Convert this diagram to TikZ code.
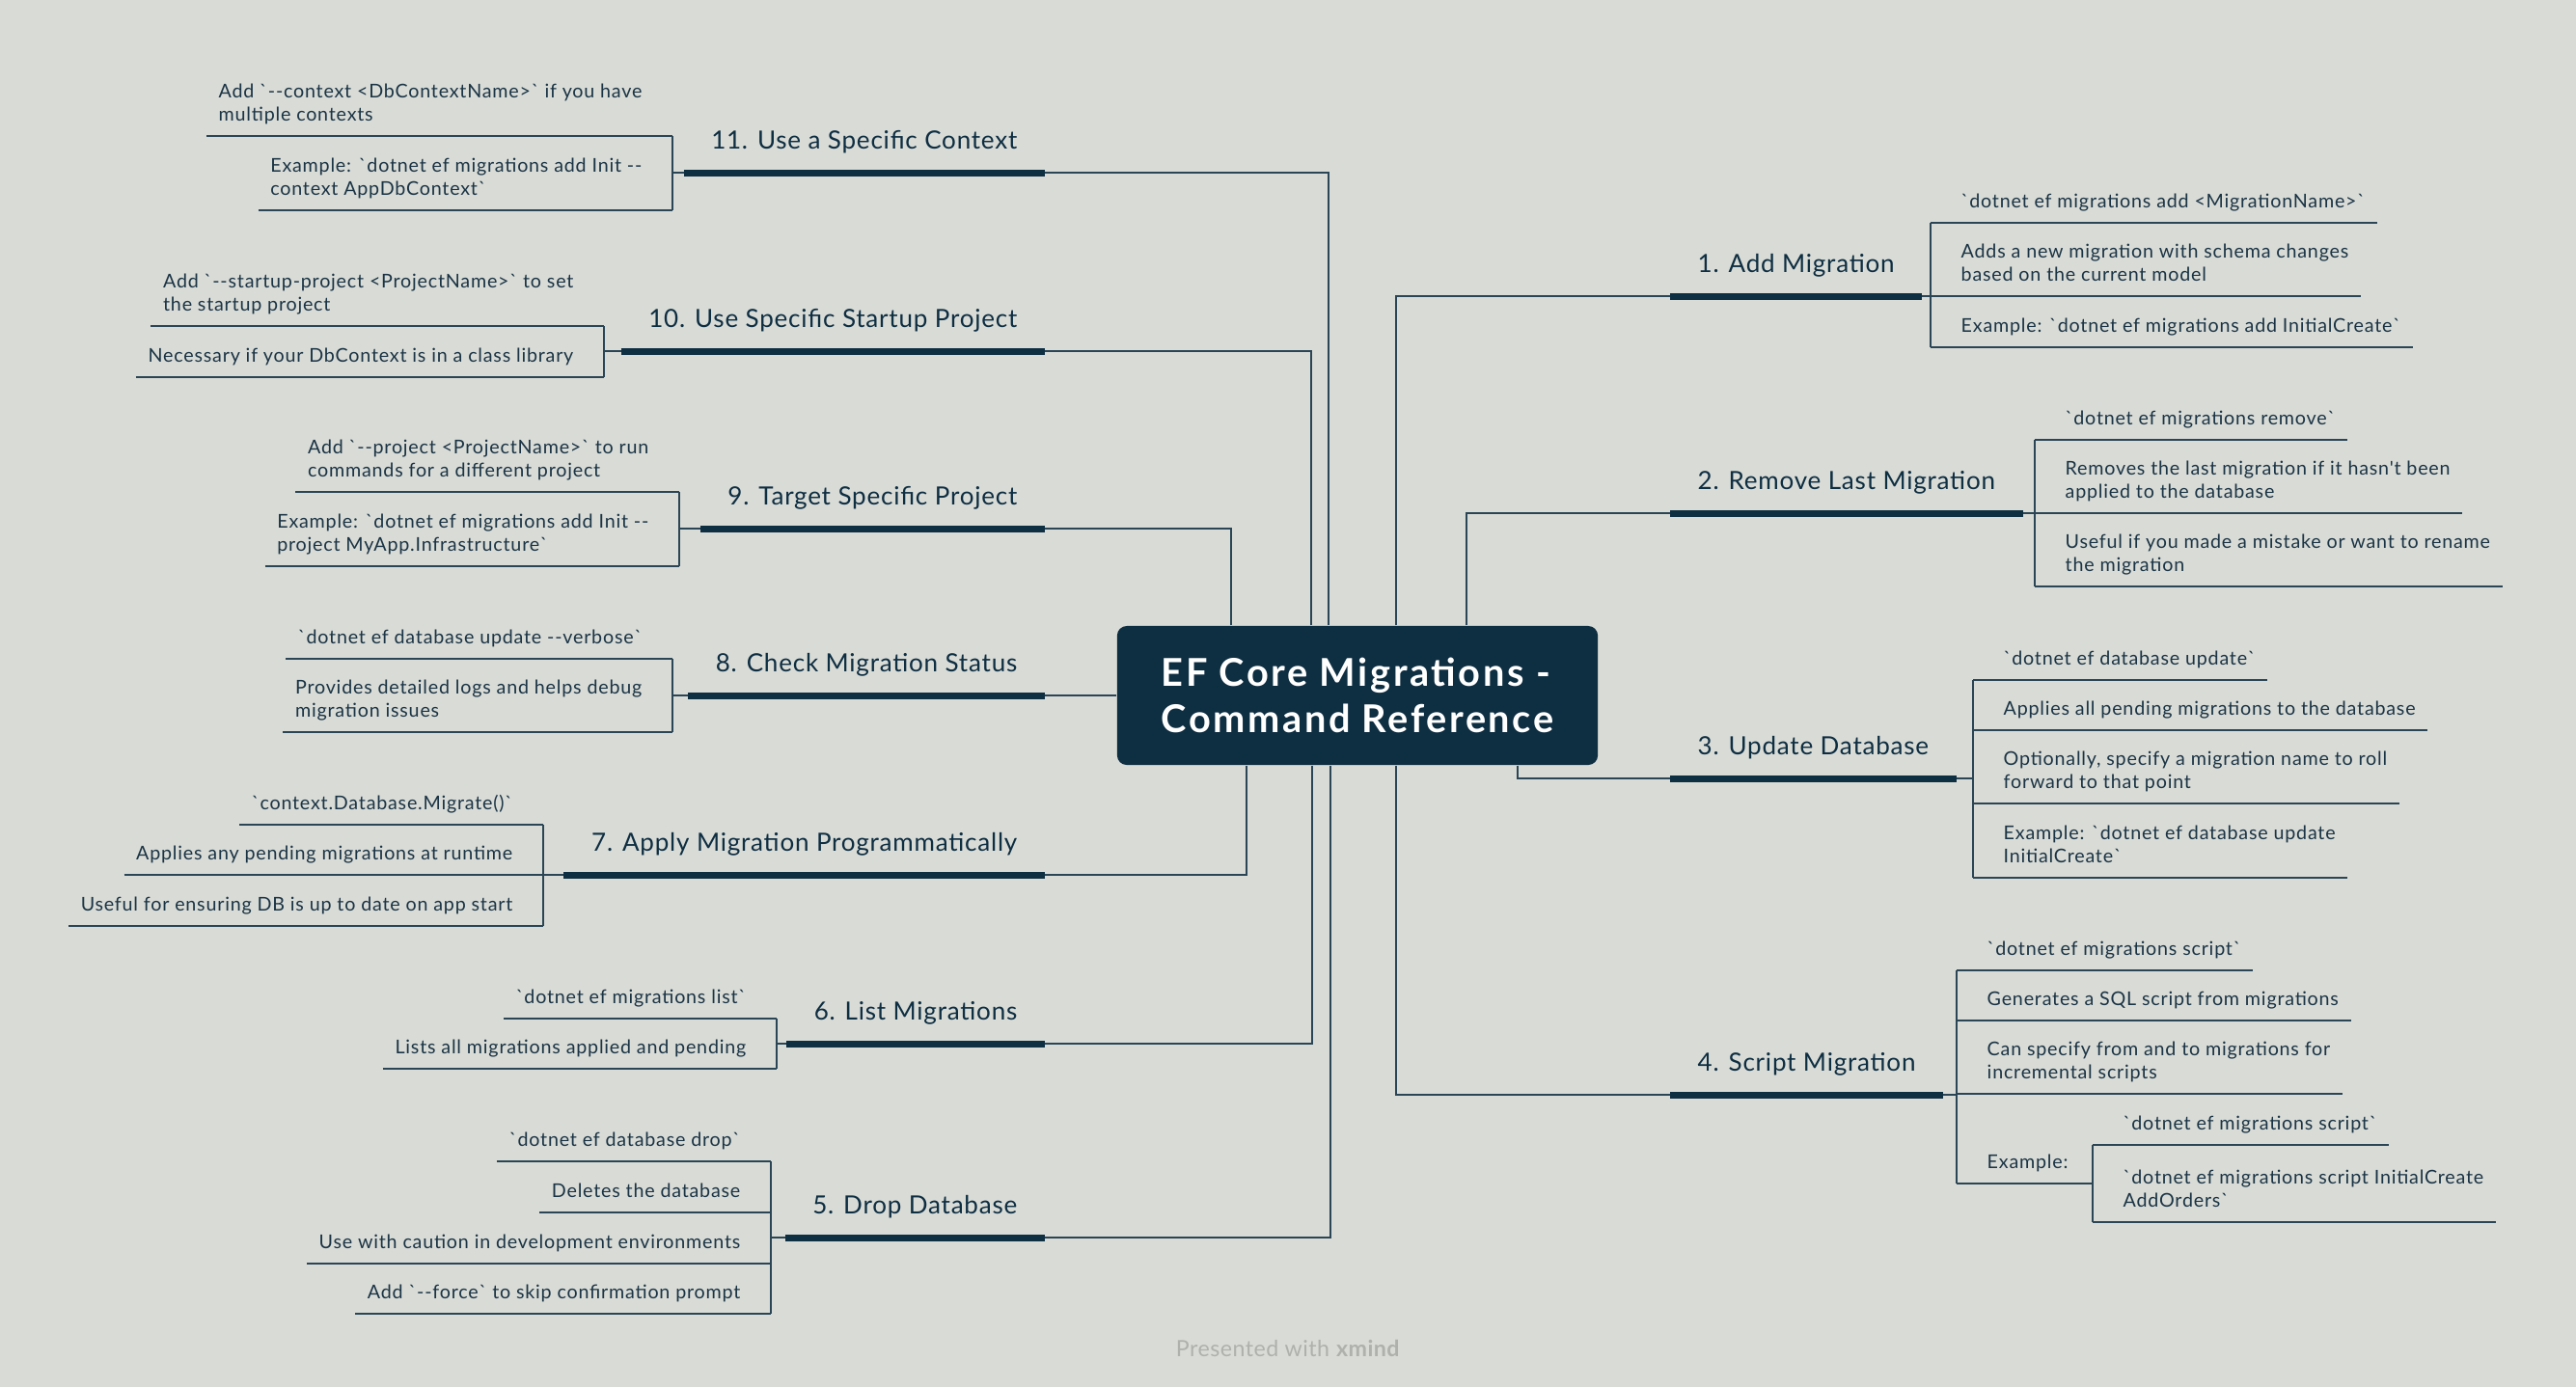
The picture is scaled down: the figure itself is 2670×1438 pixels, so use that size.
\documentclass[tikz,border=0pt]{standalone}
\usepackage{fontspec}
\setmainfont{Lato}[Ligatures=TeXOff]
\newfontfamily\leaffont{Lato}[Ligatures=TeXOff,LetterSpace=4]
\newfontfamily\branchfont{Lato}[Ligatures=TeXOff,LetterSpace=3]
\newfontfamily\titlefont{Lato}[Ligatures=TeXOff,LetterSpace=6.5]
\newfontfamily\footfont{Lato}[Ligatures=TeXOff,LetterSpace=2]
\usetikzlibrary{calc}
\definecolor{bgc}{HTML}{D9DBD6}
\definecolor{navy}{HTML}{0E2E42}
\definecolor{linec}{HTML}{2A4555}
\definecolor{txtc}{HTML}{1B3445}
\definecolor{footc}{HTML}{AEB1AC}
\newcommand\ml[1]{\begin{tabular}[b]{@{}l@{}}#1\end{tabular}}
\begin{document}
\begin{tikzpicture}[x=0.01cm,y=-0.01cm,
  conn/.style={line width=0.57pt,draw=linec},
  thickline/.style={line width=2pt,draw=navy},
  leafline/.style={line width=0.57pt,draw=linec},
  leaf/.style={inner xsep=0.12cm,inner ysep=0pt,text depth=0.145cm,text=txtc,font=\leaffont\fontsize{5.6}{6.97}\selectfont},
  leafR/.style={leaf,anchor=south west},
  leafL/.style={leaf,anchor=south east},
  branch/.style={inner xsep=0.28cm,inner ysep=0pt,text depth=0.24cm,text=navy,font=\branchfont\fontsize{7.4}{9}\selectfont},
  branchR/.style={branch,anchor=south west},
  branchL/.style={branch,anchor=south east},
  title/.style={fill=navy,rounded corners=0.1cm,minimum width=4.98cm,minimum height=1.44cm,inner xsep=0pt,inner ysep=0pt,text height=1.10cm,text depth=0.34cm,text=white,font=\titlefont\fontsize{11.3}{13.66}\selectfont\bfseries},
]
\fill[bgc] (0,0) rectangle (2670,1438);
\useasboundingbox (0,0) rectangle (2670,1438);

% central topic
\node[title] (C) at (1407,721) {\ml{EF Core Migrations -\\Command Reference}};

% trunk x positions and bracket x positions
\coordinate (t1) at (1447,0); \coordinate (t2) at (1520,0);
\coordinate (t3) at (1573,0); \coordinate (t4) at (1447,0);
\coordinate (t5) at (1379,0); \coordinate (t6) at (1360,0);
\coordinate (t7) at (1292,0); \coordinate (t9) at (1276,0);
\coordinate (t10) at (1359,0); \coordinate (t11) at (1377,0);
\coordinate (k1) at (2001,0); \coordinate (k2) at (2109,0);
\coordinate (k3) at (2045,0); \coordinate (k4) at (2028,0);
\coordinate (k4s) at (2169,0);
\coordinate (k5) at (799,0); \coordinate (k6) at (805,0);
\coordinate (k7) at (563,0); \coordinate (k8) at (697,0);
\coordinate (k9) at (704,0); \coordinate (k10) at (626,0);
\coordinate (k11) at (697,0);

% main topics
\node[branchR] (b1) at (1731,307) {1. Add Migration};
\node[branchR] (b2) at (1731,532) {2. Remove Last Migration};
\node[branchR] (b3) at (1731,807) {3. Update Database};
\node[branchR] (b4) at (1731,1135) {4. Script Migration};
\node[branchL] (b5) at (1083,1283) {5. Drop Database};
\node[branchL] (b6) at (1083,1082) {6. List Migrations};
\node[branchL] (b7) at (1083,907) {7. Apply Migration Programmatically};
\node[branchL] (b8) at (1083,721) {8. Check Migration Status};
\node[branchL] (b9) at (1083,548) {9. Target Specific Project};
\node[branchL] (b10) at (1083,364) {10. Use Specific Startup Project};
\node[branchL] (b11) at (1083,179) {11. Use a Specific Context};

% connectors from the central topic
\draw[conn] (C.north -| t1) |- (b1.south west);
\draw[conn] (C.north -| t2) |- (b2.south west);
\draw[conn] (C.south -| t3) |- (b3.south west);
\draw[conn] (C.south -| t4) |- (b4.south west);
\draw[conn] (C.south -| t5) |- (b5.south east);
\draw[conn] (C.south -| t6) |- (b6.south east);
\draw[conn] (C.south -| t7) |- (b7.south east);
\draw[conn] (b8.south east -| C.west) -- (b8.south east);
\draw[conn] (C.north -| t9) |- (b9.south east);
\draw[conn] (C.north -| t10) |- (b10.south east);
\draw[conn] (C.north -| t11) |- (b11.south east);

% leaves: right side
\node[leafR] (l1a) at (2020,231) {`dotnet ef migrations add <MigrationName>`};
\node[leafR] (l1b) at (2020,307) {\ml{Adds a new migration with schema changes\\based on the current model}};
\node[leafR] (l1c) at (2020,360) {Example: `dotnet ef migrations add InitialCreate`};

\node[leafR] (l2a) at (2128,456) {`dotnet ef migrations remove`};
\node[leafR] (l2b) at (2128,532) {\ml{Removes the last migration if it hasn't been\\applied to the database}};
\node[leafR] (l2c) at (2128,608) {\ml{Useful if you made a mistake or want to rename\\the migration}};

\node[leafR] (l3a) at (2064,705) {`dotnet ef database update`};
\node[leafR] (l3b) at (2064,757) {Applies all pending migrations to the database};
\node[leafR] (l3c) at (2064,833) {\ml{Optionally, specify a migration name to roll\\forward to that point}};
\node[leafR] (l3d) at (2064,910) {\ml{Example: `dotnet ef database update\\InitialCreate`}};

\node[leafR] (l4a) at (2047,1006) {`dotnet ef migrations script`};
\node[leafR] (l4b) at (2047,1058) {Generates a SQL script from migrations};
\node[leafR] (l4c) at (2047,1134) {\ml{Can specify from and to migrations for\\incremental scripts}};
\node[leafR] (l4d) at (2047,1227) {Example:};
\node[leafR] (l4e) at (2188,1187) {`dotnet ef migrations script`};
\node[leafR] (l4f) at (2188,1267) {\ml{`dotnet ef migrations script InitialCreate\\AddOrders`}};

% leaves: left side
\node[leafL] (l5a) at (780,1204) {`dotnet ef database drop`};
\node[leafL] (l5b) at (780,1257) {Deletes the database};
\node[leafL] (l5c) at (780,1310) {Use with caution in development environments};
\node[leafL] (l5d) at (780,1362) {Add `--force` to skip confirmation prompt};

\node[leafL] (l6a) at (786,1056) {`dotnet ef migrations list`};
\node[leafL] (l6b) at (786,1108) {Lists all migrations applied and pending};

\node[leafL] (l7a) at (544,855) {`context.Database.Migrate()`};
\node[leafL] (l7b) at (544,907) {Applies any pending migrations at runtime};
\node[leafL] (l7c) at (544,960) {Useful for ensuring DB is up to date on app start};

\node[leafL] (l8a) at (678,683) {`dotnet ef database update --verbose`};
\node[leafL] (l8b) at (678,759) {\ml{Provides detailed logs and helps debug\\migration issues}};

\node[leafL] (l9a) at (685,510) {\ml{Add `--project <ProjectName>` to run\\commands for a different project}};
\node[leafL] (l9b) at (685,587) {\ml{Example: `dotnet ef migrations add Init --\\project MyApp.Infrastructure`}};

\node[leafL] (l10a) at (607,338) {\ml{Add `--startup-project <ProjectName>` to set\\the startup project}};
\node[leafL] (l10b) at (607,391) {Necessary if your DbContext is in a class library};

\node[leafL] (l11a) at (678,141) {\ml{Add `--context <DbContextName>` if you have\\multiple contexts}};
\node[leafL] (l11b) at (678,218) {\ml{Example: `dotnet ef migrations add Init --\\context AppDbContext`}};

% right side: branch stubs, brackets, underlines
\foreach \b/\k/\first/\last/\ls in {1/k1/l1a/l1c/{l1a,l1b,l1c}, 2/k2/l2a/l2c/{l2a,l2b,l2c}, 3/k3/l3a/l3d/{l3a,l3b,l3c,l3d}, 4/k4/l4a/l4d/{l4a,l4b,l4c}}{
  \draw[leafline] (b\b.south east) -- (b\b.south east -| \k);
  \draw[leafline] (\first.south -| \k) -- (\last.south -| \k);
  \foreach \l in \ls { \draw[leafline] (\l.south -| \k) -- (\l.south east); }
}
\draw[leafline] (l4d.south -| k4) -- (l4d.south -| k4s);
\draw[leafline] (l4e.south -| k4s) -- (l4f.south -| k4s);
\draw[leafline] (l4e.south -| k4s) -- (l4e.south east);
\draw[leafline] (l4f.south -| k4s) -- (l4f.south east);

% left side
\foreach \b/\k/\first/\last/\ls in {5/k5/l5a/l5d/{l5a,l5b,l5c,l5d}, 6/k6/l6a/l6b/{l6a,l6b}, 7/k7/l7a/l7c/{l7a,l7b,l7c}, 8/k8/l8a/l8b/{l8a,l8b}, 9/k9/l9a/l9b/{l9a,l9b}, 10/k10/l10a/l10b/{l10a,l10b}, 11/k11/l11a/l11b/{l11a,l11b}}{
  \draw[leafline] (b\b.south west) -- (b\b.south west -| \k);
  \draw[leafline] (\first.south -| \k) -- (\last.south -| \k);
  \foreach \l in \ls { \draw[leafline] (\l.south west) -- (\l.south -| \k); }
}

% thick underlines of main topics
\foreach \b in {1,2,3,4,5,6,7,8,9,10,11}{ \draw[thickline] (b\b.south west) -- (b\b.south east); }

% footer
\node[text=footc,font=\footfont\fontsize{6.6}{8}\selectfont] (ft) at (1335,1398) {Presented with \textbf{xmind}};
\end{tikzpicture}
\end{document}
